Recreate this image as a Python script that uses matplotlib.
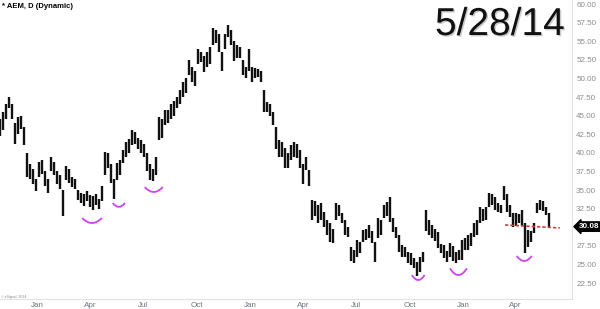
import numpy as np
import pandas as pd
import matplotlib
matplotlib.use("Agg")
import matplotlib.pyplot as plt
import matplotlib.dates as mdates
from matplotlib.patches import PathPatch
from matplotlib.path import Path
import matplotlib.patheffects as pe

plt.rcParams['font.family'] = ['Liberation Sans', 'DejaVu Sans']

# AEM daily bars, sampled off the chart (low, high)
bar_start = "2011-10-29"
bar_end = "2014-05-28"
lows = [42.3, 43.0, 44.5, 46.0, 44.5, 41.2, 42.5, 43.2, 41.0, 36.8,
        36.5, 35.8, 34.8, 36.8, 37.2, 35.5, 34.6, 37.5, 37.0, 35.8,
        35.2, 31.5, 36.3, 36.0, 35.4, 35.2, 33.6, 33.2, 32.8, 33.5,
        32.7, 32.3, 33.0, 32.5, 33.5, 37.0, 38.0, 36.0, 33.8, 36.3,
        37.0, 38.6, 39.4, 40.0, 41.0, 41.2, 40.5, 40.0, 39.5, 37.5,
        36.3, 36.2, 37.0, 41.7, 42.0, 43.7, 44.0, 44.5, 45.0, 46.0,
        46.5, 47.5, 48.0, 50.5, 49.5, 49.0, 52.0, 52.2, 50.8, 51.5,
        52.0, 54.5, 54.8, 53.5, 51.0, 54.0, 55.5, 54.5, 52.3, 52.8,
        52.7, 50.5, 50.0, 51.0, 49.5, 50.0, 50.2, 49.5, 45.5, 45.5,
        45.0, 43.7, 40.5, 39.5, 39.5, 38.0, 38.0, 39.0, 39.5, 39.3,
        38.0, 35.8, 37.7, 35.5, 31.0, 31.5, 30.5, 31.0, 30.0, 29.0,
        28.0, 27.9, 31.0, 31.5, 30.6, 29.0, 28.7, 25.5, 25.2, 26.0,
        26.5, 28.0, 28.3, 28.5, 27.9, 25.3, 28.5, 29.0, 31.2, 31.5,
        30.7, 29.4, 28.5, 26.7, 26.0, 26.0, 25.2, 24.9, 24.5, 23.5,
        24.0, 25.3, 29.5, 29.0, 28.5, 28.2, 27.2, 26.5, 25.8, 25.3,
        26.0, 25.5, 25.2, 25.6, 25.6, 26.9, 27.0, 27.5, 28.7, 29.0,
        30.6, 30.8, 31.0, 32.7, 33.0, 32.3, 32.0, 31.9, 33.7, 32.0,
        31.4, 30.0, 30.2, 30.6, 30.2, 26.5, 27.3, 28.0, 29.2, 31.9,
        32.3, 32.2, 31.6, 30.0]
highs = [44.5, 45.5, 46.5, 47.5, 46.5, 44.0, 44.8, 45.0, 43.5, 40.0,
         38.5, 37.8, 36.5, 38.8, 39.0, 37.5, 36.5, 39.5, 38.8, 37.5,
         37.0, 35.0, 38.2, 37.8, 36.8, 36.5, 35.0, 34.6, 34.4, 34.8,
         34.3, 34.2, 34.5, 33.8, 35.5, 40.1, 40.0, 38.5, 36.5, 38.6,
         39.0, 40.4, 41.5, 41.8, 43.0, 42.8, 42.0, 41.7, 41.2, 40.0,
         38.5, 37.8, 39.4, 44.8, 44.5, 45.7, 45.8, 46.5, 47.0, 47.5,
         48.5, 49.5, 50.0, 52.5, 51.5, 51.0, 54.0, 53.5, 53.0, 53.5,
         54.2, 56.8, 56.5, 56.0, 53.5, 56.0, 57.2, 56.5, 55.0, 54.5,
         54.2, 52.5, 51.5, 54.0, 51.5, 51.4, 51.3, 51.0, 48.5, 46.8,
         46.5, 45.5, 43.5, 41.7, 41.5, 40.6, 40.0, 41.0, 41.5, 41.2,
         40.4, 38.5, 39.4, 37.7, 33.7, 33.5, 33.0, 33.2, 32.0, 31.0,
         30.5, 29.8, 33.3, 33.0, 31.9, 31.0, 30.0, 27.3, 27.0, 28.3,
         28.0, 29.6, 29.8, 30.3, 29.5, 28.0, 31.2, 31.0, 33.0, 33.4,
         34.0, 31.2, 30.0, 29.0, 27.6, 27.3, 26.7, 26.5, 25.9, 25.3,
         26.0, 26.7, 32.3, 31.0, 30.3, 29.8, 29.4, 27.8, 27.6, 26.8,
         27.9, 27.5, 26.7, 27.0, 28.3, 28.5, 29.0, 29.2, 30.5, 31.0,
         32.7, 32.5, 32.7, 34.6, 34.4, 34.0, 33.3, 33.0, 35.6, 34.5,
         33.0, 31.9, 31.9, 31.8, 32.3, 30.6, 29.6, 29.5, 30.6, 33.3,
         33.7, 33.5, 32.7, 31.9]
last_price = 30.08

# highlighted lows (centre date, bottom price, width in days, rise in price)
smile_dates = ["2012-04-04", "2012-05-20", "2012-07-19",
               "2013-10-16", "2013-12-24", "2014-04-16"]
smile_bottoms = [30.56, 32.72, 34.73, 22.90, 23.57, 25.46]
smile_widths = [34, 21, 31, 22, 29, 26]
smile_rises = [0.67, 0.54, 0.67, 0.67, 0.9, 0.67]

# neckline
line_dates = ["2014-03-14", "2014-06-16"]
line_prices = [30.3, 29.9]

y_ticks = np.arange(22.5, 60.01, 2.5)
x_ticks = pd.date_range("2012-01-01", "2014-04-01", freq="QS")

fig = plt.figure(figsize=(6.0, 3.09), dpi=100)
ax = fig.add_axes([0.0, 10 / 309, 572 / 600, 299 / 309])

dates = pd.date_range(bar_start, bar_end, periods=len(lows))
ax.vlines(dates, lows, highs, color='#111111', lw=1.7)

ax.set_xlim(pd.Timestamp("2011-10-29"), pd.Timestamp("2014-07-07"))
ax.set_ylim(20.35, 60.54)

# smiles under the lows, as quadratic curves
for d, b, w, r in zip(smile_dates, smile_bottoms, smile_widths, smile_rises):
    c = mdates.date2num(pd.Timestamp(d))
    verts = [(c - w / 2, b + r), (c, b - r), (c + w / 2, b + r)]
    path = Path(verts, [Path.MOVETO, Path.CURVE3, Path.CURVE3])
    ax.add_patch(PathPatch(path, fc='none', ec='#cc44ee', lw=1.3))

ax.plot(pd.to_datetime(line_dates), line_prices, color='#d83a3a', lw=1.2,
        ls=(0, (2, 1.2)))

ax.yaxis.tick_right()
ax.set_yticks(y_ticks)
ax.set_yticklabels(["" if abs(v - 30) < 0.01 else "%.2f" % v for v in y_ticks])
ax.set_xticks(x_ticks)
ax.xaxis.set_major_formatter(mdates.DateFormatter('%b'))
ax.tick_params(axis='y', length=0, pad=3, labelsize=5.8, labelcolor='#8c8c8c')
ax.tick_params(axis='x', length=0, pad=2, labelsize=5.8, labelcolor='#6e7480')

for s in ['left', 'top']:
    ax.spines[s].set_visible(False)
ax.spines['right'].set_color('#e2e2e2')
ax.spines['bottom'].set_color('#e2e2e2')
ax.spines['right'].set_linewidth(0.8)
ax.spines['bottom'].set_linewidth(0.8)

# last price tag
ax.annotate("%.2f" % last_price, xy=(1.0, last_price),
            xycoords=('axes fraction', 'data'), xytext=(5, 0),
            textcoords='offset points', ha='left', va='center',
            fontsize=5.8, color='white', fontweight='bold',
            bbox=dict(boxstyle='larrow,pad=0.15', fc='black', ec='black'),
            annotation_clip=False)

fig.text(0.003, 0.99, "* AEM, D (Dynamic)", ha='left', va='top',
         fontsize=5.5, fontweight='bold')
fig.text(435 / 600, 1 - 35 / 309, "5/28/14", ha='left', va='baseline',
         fontsize=28, color='#111111',
         path_effects=[pe.withSimplePatchShadow(offset=(1, -1),
                                                shadow_rgbFace='#999999',
                                                alpha=0.5)])
fig.text(0.002, 1 - 297 / 309, "\u00a9 eSignal, 2014", ha='left',
         va='center', fontsize=2.5, color='#888888')

fig.savefig("out.png", dpi=100)
